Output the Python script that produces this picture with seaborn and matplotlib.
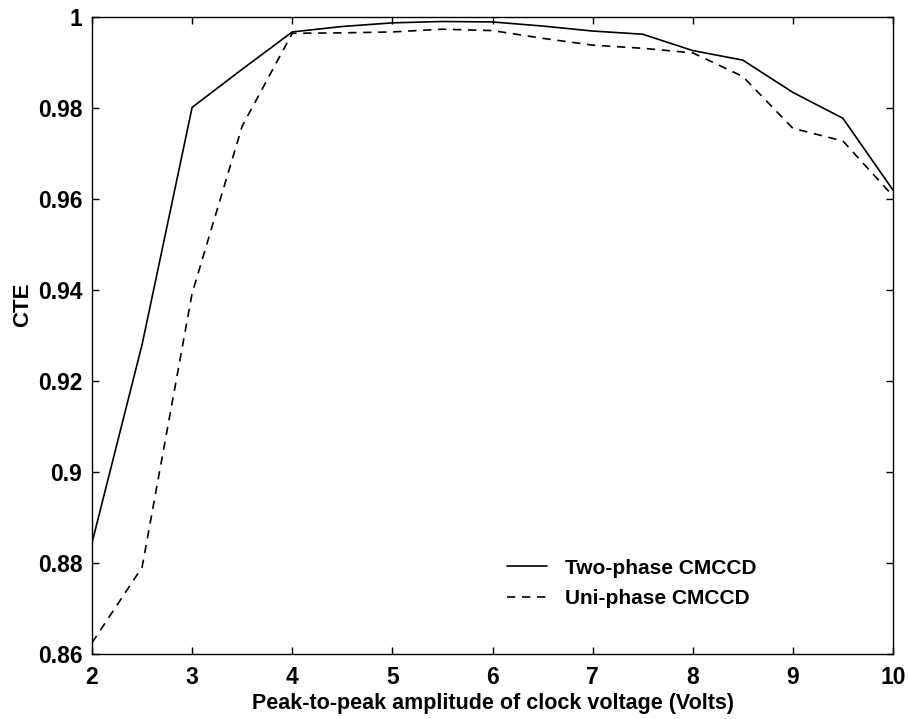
import matplotlib
matplotlib.use("Agg")
import matplotlib.pyplot as plt
import matplotlib.ticker as mticker
import seaborn as sns
import pandas as pd

# Data
voltage = [2, 2.5, 3, 3.5, 4, 4.5, 5, 5.5, 6, 6.5, 7, 7.5, 8, 8.5, 9, 9.5, 10]
two_phase = [0.8844, 0.928, 0.9802, 0.9886, 0.9968, 0.9980, 0.9988, 0.9991, 0.9990,
             0.9981, 0.9970, 0.9963, 0.9927, 0.9906, 0.9835, 0.9778, 0.9620]
uni_phase = [0.8624, 0.879, 0.9393, 0.9761, 0.9965, 0.9966, 0.9968, 0.9974, 0.9971,
             0.9954, 0.9939, 0.9932, 0.9922, 0.9870, 0.9756, 0.9728, 0.9607]
series_names = ["Two-phase CMCCD", "Uni-phase CMCCD"]
x_ticks = [2, 3, 4, 5, 6, 7, 8, 9, 10]
y_ticks = [0.86, 0.88, 0.90, 0.92, 0.94, 0.96, 0.98, 1.0]

df = pd.DataFrame({
    "Voltage": voltage * 2,
    "CTE": two_phase + uni_phase,
    "Series": [series_names[0]] * len(voltage) + [series_names[1]] * len(voltage),
})

sns.set_theme(style="ticks")
plt.rcParams["font.family"] = ["Liberation Sans", "DejaVu Sans"]
plt.rcParams["font.weight"] = "bold"

fig = plt.figure(figsize=(9.08, 7.19), dpi=100)
ax = fig.add_axes([92 / 908, 1 - 653.7 / 719, (893 - 92) / 908, (653.7 - 17.4) / 719])

sns.lineplot(
    data=df, x="Voltage", y="CTE", hue="Series", style="Series",
    palette={series_names[0]: "black", series_names[1]: "black"},
    dashes={series_names[0]: "", series_names[1]: (5, 4)},
    linewidth=1.2, ax=ax, legend=True,
)

ax.set_xlim(2, 10)
ax.set_ylim(0.86, 1.0)
ax.set_xticks(x_ticks)
ax.set_yticks(y_ticks)
ax.yaxis.set_major_formatter(mticker.FuncFormatter(lambda v, p: f"{v:g}"))
ax.tick_params(direction="in", length=5, width=1, top=True, right=True,
               labelsize=16.5, colors="black")
ax.tick_params(axis="x", pad=9)
ax.tick_params(axis="y", pad=7)
for lab in ax.get_xticklabels() + ax.get_yticklabels():
    lab.set_fontweight("bold")
for sp in ax.spines.values():
    sp.set_visible(True)
    sp.set_color("black")
    sp.set_linewidth(1.0)

ax.set_xlabel("Peak-to-peak amplitude of clock voltage (Volts)", fontsize=15.5,
              fontweight="bold", labelpad=3, color="black")
ax.set_ylabel("CTE", fontsize=16, fontweight="bold", color="black")
ax.yaxis.set_label_coords(-0.074, 0.548)

handles, labels = ax.get_legend_handles_labels()
leg = ax.legend(handles, labels, loc="upper left", bbox_to_anchor=(0.518, 0.1495),
                frameon=False, borderpad=0, borderaxespad=0, handlelength=1.9,
                handletextpad=0.87, labelspacing=0.55,
                prop={"size": 15, "weight": "bold"})
for t in leg.get_texts():
    t.set_color("black")

fig.savefig("out.png", dpi=100)
